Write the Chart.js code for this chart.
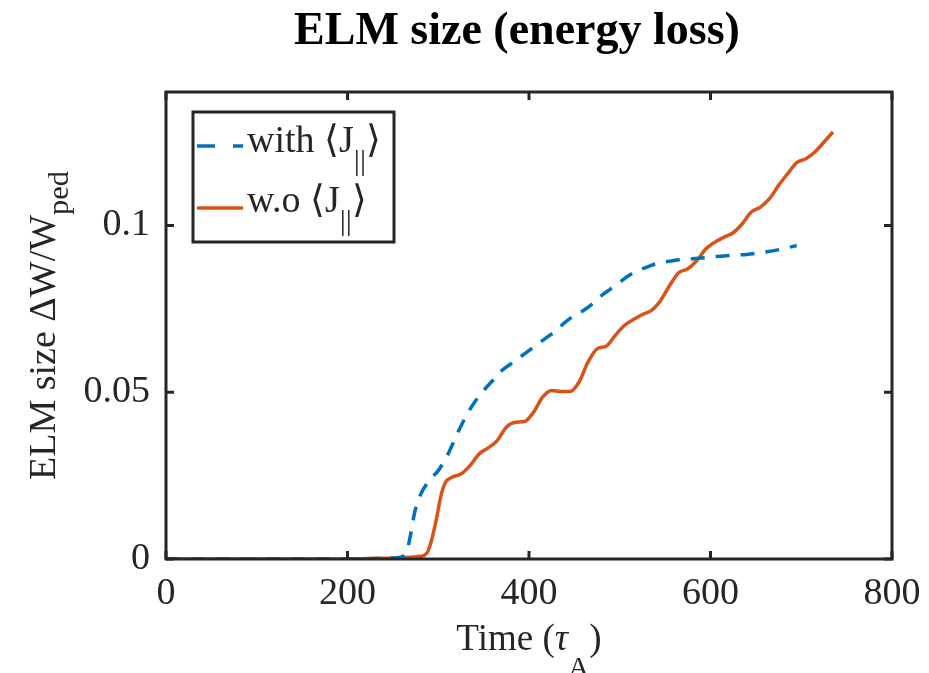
<!DOCTYPE html>
<html lang="en">
<head>
    <meta charset="UTF-8">
    <title>ELM size (energy loss)</title>
    <script src="https://cdn.jsdelivr.net/npm/chart.js"></script>
    <style>
        html, body { margin: 0; padding: 0; background: #fff; }
        #wrap { width: 929px; height: 673px; position: relative; }
    </style>
</head>
<body>
<div id="wrap"><canvas id="elm"></canvas></div>
<script>
// time (tau_A) and ELM size dW/W_ped
const withTime = [0, 100, 200, 250, 262, 266, 270, 274, 280, 290, 300, 310, 320, 330, 340, 350, 360, 370, 380, 390, 400, 410, 420, 430, 440, 450, 460, 470, 480, 490, 500, 510, 520, 530, 540, 560, 580, 600, 620, 640, 660, 680, 695];
const withSize = [0, 0, 0, 0.0003, 0.001, 0.003, 0.008, 0.014, 0.019, 0.0235, 0.0265, 0.031, 0.037, 0.0425, 0.047, 0.0505, 0.0535, 0.0565, 0.0585, 0.0605, 0.0625, 0.0645, 0.0665, 0.0685, 0.071, 0.073, 0.0745, 0.0765, 0.079, 0.081, 0.083, 0.085, 0.0865, 0.0875, 0.0885, 0.0895, 0.090, 0.0905, 0.091, 0.0913, 0.092, 0.093, 0.094];

const woTime = [0, 100, 200, 250, 280, 288, 293, 298, 303, 308, 315, 325, 335, 345, 355, 365, 375, 385, 395, 405, 415, 425, 435, 445, 455, 465, 475, 485, 495, 505, 515, 525, 535, 545, 555, 565, 575, 585, 595, 605, 615, 625, 635, 645, 655, 665, 675, 685, 695, 705, 715, 725, 735];
const woSize = [0, 0, 0, 0.0003, 0.0008, 0.002, 0.006, 0.012, 0.019, 0.023, 0.0245, 0.0255, 0.028, 0.0315, 0.0333, 0.0355, 0.0395, 0.041, 0.0412, 0.044, 0.0485, 0.0505, 0.0502, 0.0502, 0.053, 0.059, 0.063, 0.0638, 0.067, 0.070, 0.0718, 0.0733, 0.0745, 0.0775, 0.082, 0.0858, 0.087, 0.0895, 0.093, 0.095, 0.0965, 0.0978, 0.1005, 0.104, 0.1055, 0.108, 0.112, 0.1155, 0.1188, 0.120, 0.122, 0.125, 0.128];

const xTicks = [0, 200, 400, 600, 800];
const yTicks = [0, 0.05, 0.1];
const yTickLabels = ['0', '0.05', '0.1'];

const BLUE = '#0072BD';
const ORANGE = '#D95319';
const AXIS = '#262626';
const SERIF = '"Liberation Serif", "Times New Roman", serif';

function pts(xs, ys) {
    return xs.map((x, i) => ({ x: x, y: ys[i] }));
}

// draws pieces of text, some of them as subscripts
function subText(ctx, parts, x, y, size, subDrop) {
    let cx = x;
    parts.forEach(p => {
        const s = p.sub ? size * 0.8 : size;
        ctx.font = (p.italic ? 'italic ' : '') + s + 'px ' + SERIF;
        ctx.fillText(p.t, cx, y + (p.sub ? subDrop : 0));
        cx += ctx.measureText(p.t).width;
    });
    return cx - x;
}
function subWidth(ctx, parts, size) {
    let w = 0;
    parts.forEach(p => {
        const s = p.sub ? size * 0.8 : size;
        ctx.font = (p.italic ? 'italic ' : '') + s + 'px ' + SERIF;
        w += ctx.measureText(p.t).width;
    });
    return w;
}

const decor = {
    id: 'decor',
    afterDraw(chart) {
        const ctx = chart.ctx;
        const a = chart.chartArea;
        const xs = chart.scales.x, ys = chart.scales.y;
        ctx.save();

        // axes box with inward ticks on all four sides
        ctx.strokeStyle = AXIS;
        ctx.lineWidth = 3;
        ctx.strokeRect(a.left, a.top, a.right - a.left, a.bottom - a.top);
        const tl = 8;
        ctx.beginPath();
        xTicks.forEach(v => {
            const px = xs.getPixelForValue(v);
            ctx.moveTo(px, a.bottom); ctx.lineTo(px, a.bottom - tl);
            ctx.moveTo(px, a.top); ctx.lineTo(px, a.top + tl);
        });
        yTicks.forEach(v => {
            const py = ys.getPixelForValue(v);
            ctx.moveTo(a.left, py); ctx.lineTo(a.left + tl, py);
            ctx.moveTo(a.right, py); ctx.lineTo(a.right - tl, py);
        });
        ctx.stroke();

        ctx.textBaseline = 'alphabetic';
        ctx.textAlign = 'left';

        // title
        ctx.fillStyle = '#000';
        ctx.font = 'bold 46px ' + SERIF;
        const title = 'ELM size (energy loss)';
        const tw = ctx.measureText(title).width;
        ctx.fillText(title, 517 - tw / 2, 44);

        ctx.fillStyle = AXIS;
        // x axis title
        const xParts = [{ t: 'Time (' }, { t: 'τ', italic: true }, { t: 'A', sub: true }, { t: ')' }];
        const xw = subWidth(ctx, xParts, 37);
        subText(ctx, xParts, (a.left + a.right) / 2 - xw / 2, 650, 37, 27);

        // y axis title
        const yParts = [{ t: 'ELM size ΔW/W' }, { t: 'ped', sub: true }];
        const yw = subWidth(ctx, yParts, 38);
        ctx.translate(55, (a.top + a.bottom) / 2);
        ctx.rotate(-Math.PI / 2);
        subText(ctx, yParts, -yw / 2, 0, 38, 13);
        ctx.setTransform(1, 0, 0, 1, 0, 0);

        // legend
        const lx = 193, ly = 112, lw = 201, lh = 130;
        ctx.fillStyle = '#fff';
        ctx.fillRect(lx, ly, lw, lh);
        ctx.strokeStyle = AXIS;
        ctx.lineWidth = 3;
        ctx.strokeRect(lx, ly, lw, lh);

        ctx.lineWidth = 3.5;
        ctx.strokeStyle = BLUE;
        ctx.setLineDash([18, 18]);
        ctx.beginPath(); ctx.moveTo(197, 146); ctx.lineTo(243, 146); ctx.stroke();
        ctx.setLineDash([]);
        ctx.strokeStyle = ORANGE;
        ctx.beginPath(); ctx.moveTo(197, 208); ctx.lineTo(243, 208); ctx.stroke();

        ctx.fillStyle = AXIS;
        subText(ctx, [{ t: 'with ⟨J' }, { t: '||', sub: true }, { t: '⟩' }], 247, 152, 38, 18);
        subText(ctx, [{ t: 'w.o ⟨J' }, { t: '||', sub: true }, { t: '⟩' }], 247, 212, 38, 18);

        ctx.restore();
    }
};

new Chart(document.getElementById('elm'), {
    type: 'line',
    data: {
        datasets: [
            {
                label: 'with <J||>',
                data: pts(withTime, withSize),
                borderColor: BLUE,
                borderWidth: 3.5,
                borderDash: [14, 11],
                pointRadius: 0,
                fill: false,
                cubicInterpolationMode: 'monotone'
            },
            {
                label: 'w.o <J||>',
                data: pts(woTime, woSize),
                borderColor: ORANGE,
                borderWidth: 3.5,
                pointRadius: 0,
                fill: false,
                cubicInterpolationMode: 'monotone'
            }
        ]
    },
    plugins: [decor],
    options: {
        responsive: true,
        maintainAspectRatio: false,
        animation: false,
        layout: { padding: { left: 0, right: 37, top: 92, bottom: 0 } },
        plugins: {
            legend: { display: false },
            title: { display: false },
            tooltip: { enabled: false }
        },
        scales: {
            x: {
                type: 'linear',
                min: 0,
                max: 800,
                afterBuildTicks: s => { s.ticks = xTicks.map(v => ({ value: v })); },
                afterFit: s => { s.height = 114; s.paddingLeft = 0; s.paddingRight = 0; },
                grid: { display: false, drawTicks: false },
                border: { display: false },
                ticks: {
                    color: AXIS,
                    padding: 12,
                    maxRotation: 0,
                    font: { family: SERIF, size: 38 }
                }
            },
            y: {
                type: 'linear',
                min: 0,
                max: 0.14,
                afterBuildTicks: s => { s.ticks = yTicks.map(v => ({ value: v })); },
                afterFit: s => { s.width = 166; s.paddingTop = 0; s.paddingBottom = 0; },
                grid: { display: false, drawTicks: false },
                border: { display: false },
                ticks: {
                    color: AXIS,
                    padding: 16,
                    font: { family: SERIF, size: 38 },
                    callback: (v) => {
                        const i = yTicks.indexOf(v);
                        return i >= 0 ? yTickLabels[i] : '';
                    }
                }
            }
        }
    }
});
</script>
</body>
</html>
